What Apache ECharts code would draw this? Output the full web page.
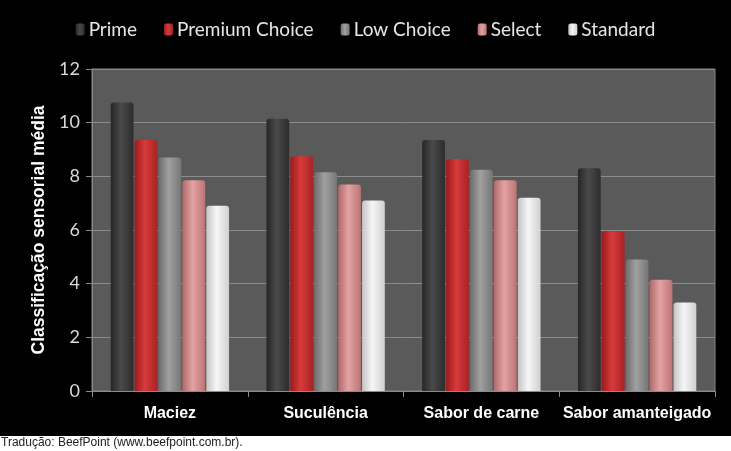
<!DOCTYPE html>
<html>
<head>
<meta charset="utf-8">
<script src="https://cdn.jsdelivr.net/npm/echarts@6/dist/echarts.min.js"></script>
<style>
html,body{margin:0;padding:0;background:#000;}
#c{width:731px;height:451px;}
</style>
</head>
<body>
<div id="c"></div>
<script>
var categories = ['Maciez', 'Suculência', 'Sabor de carne', 'Sabor amanteigado'];
var seriesNames = ['Prime', 'Premium Choice', 'Low Choice', 'Select', 'Standard'];
var prime = [10.75, 10.15, 9.35, 8.3];
var premiumChoice = [9.35, 8.75, 8.65, 5.95];
var lowChoice = [8.7, 8.15, 8.25, 4.9];
var selectGrade = [7.85, 7.7, 7.85, 4.15];
var standard = [6.9, 7.1, 7.2, 3.3];
var yTicks = [0, 2, 4, 6, 8, 10, 12];
var footer = 'Tradução: BeefPoint (www.beefpoint.com.br).';

var values = [prime, premiumChoice, lowChoice, selectGrade, standard];
var palettes = [
  ['#262626', '#4a4a4a', '#2c2c2c'],
  ['#9a1a1d', '#d73b3b', '#a82226'],
  ['#6c6c6c', '#a0a0a0', '#767676'],
  ['#b06868', '#e3a3a3', '#bc7474'],
  ['#c4c4c4', '#f6f6f6', '#d0d0d0']
];
function grad(p) {
  return new echarts.graphic.LinearGradient(0, 0, 1, 0, [
    {offset: 0, color: p[0]},
    {offset: 0.45, color: p[1]},
    {offset: 1, color: p[2]}
  ]);
}
var chart = echarts.init(document.getElementById('c'));
var series = seriesNames.map(function (n, i) {
  return {
    name: n,
    type: 'bar',
    data: values[i],
    barGap: '5%',
    barCategoryGap: '24%',
    itemStyle: {color: grad(palettes[i]), borderRadius: [3, 3, 0, 0]},
    emphasis: {disabled: true}
  };
});
chart.setOption({
  backgroundColor: '#000',
  animation: false,
  legend: {
    top: 15,
    left: 'center',
    itemWidth: 9,
    itemHeight: 12,
    itemGap: 27,
    textStyle: {color: '#e6e6e6', fontSize: 19, fontFamily: 'Lato', padding: [0, 0, 0, -1]},
    data: seriesNames.map(function (n, i) {
      return {name: n, itemStyle: {color: grad(palettes[i])}};
    })
  },
  grid: {
    left: 92, right: 16, top: 69, bottom: 60,
    show: true, backgroundColor: '#5a5a5a', borderColor: '#858585', borderWidth: 1
  },
  xAxis: {
    type: 'category',
    data: categories,
    axisLine: {show: true, lineStyle: {color: '#8a8a8a'}},
    axisTick: {show: true, length: 6, lineStyle: {color: '#8a8a8a'}},
    axisLabel: {interval: 0, color: '#ffffff', fontSize: 16, fontWeight: 'bold', fontFamily: 'Liberation Sans', margin: 15}
  },
  yAxis: {
    type: 'value',
    min: yTicks[0],
    max: yTicks[yTicks.length - 1],
    interval: yTicks[1] - yTicks[0],
    name: 'Classificação sensorial média',
    nameLocation: 'middle',
    nameGap: 40,
    nameTextStyle: {color: '#ffffff', fontSize: 17.5, fontWeight: 'bold', fontFamily: 'Liberation Sans'},
    axisLine: {show: true, lineStyle: {color: '#8a8a8a'}},
    axisTick: {show: true, length: 6, lineStyle: {color: '#8a8a8a'}},
    axisLabel: {color: '#d9d9d9', fontSize: 18, fontFamily: 'Lato', margin: 12},
    splitLine: {lineStyle: {color: '#8c8c8c', width: 1}}
  },
  graphic: [
    {type: 'rect', left: 0, top: 436, shape: {width: 731, height: 15}, style: {fill: '#ffffff'}, silent: true},
    {type: 'text', left: 1, top: 437, style: {text: footer, fill: '#222', font: '12px "Liberation Sans"'}, silent: true}
  ],
  series: series
});
</script>
</body>
</html>
